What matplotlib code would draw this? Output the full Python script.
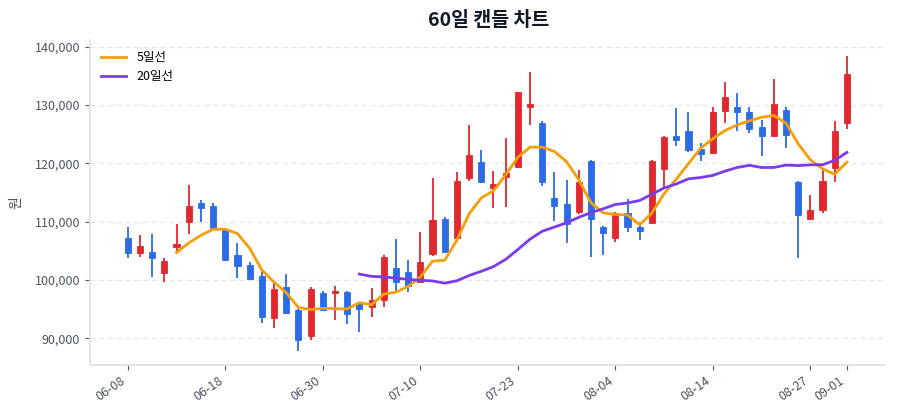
import matplotlib
matplotlib.use('Agg')
import matplotlib.pyplot as plt
import numpy as np
import pandas as pd

plt.rcParams['font.family'] = ['Noto Sans CJK KR', 'DejaVu Sans']

# candle data (60 trading days)
opens = [107100, 104600, 104700, 101100, 105700, 109900, 113200, 112700, 108700, 104200,
         102600, 100700, 93500, 98700, 94800, 90400, 97800, 97800, 98000, 96000,
         95400, 96600, 102000, 101400, 99700, 104400, 110400, 107100, 117400, 120200,
         115800, 117700, 119400, 129600, 126900, 114000, 113000, 111600, 120400, 109100,
         107200, 111400, 109100, 109700, 119000, 124700, 125500, 122500, 121800, 128900,
         129700, 128800, 126200, 124700, 129100, 116700, 110500, 112000, 119200, 126900]
highs = [109000, 107650, 107800, 103700, 109600, 116200, 113650, 113150, 108900, 106300,
         103100, 101600, 99500, 101000, 95000, 98850, 98100, 99000, 98100, 96100,
         98600, 104300, 107000, 103400, 108200, 117400, 110850, 118550, 126600, 122300,
         118700, 124300, 132300, 135700, 127250, 118550, 117150, 118850, 120500, 109200,
         111600, 113850, 110000, 120500, 124700, 129450, 128700, 123550, 129600, 133850,
         132000, 129700, 127450, 134400, 129700, 116900, 114550, 119150, 127300, 138400]
lows = [103800, 104000, 100550, 99600, 104850, 107850, 110000, 108700, 103200, 100300,
        100000, 92550, 91700, 94200, 87850, 89600, 94650, 93150, 92400, 91100,
        93700, 95300, 98000, 98000, 99600, 104100, 104700, 106450, 116950, 116600,
        112400, 112550, 119300, 126550, 116100, 110150, 106300, 111300, 104000, 104300,
        106550, 108150, 106850, 109600, 115800, 122950, 121900, 120450, 121600, 126950,
        125600, 125250, 121250, 124500, 122600, 103700, 110400, 111450, 116750, 125850]
closes = [104600, 105800, 103700, 103300, 106100, 112700, 112400, 108850, 103400, 102300,
          100200, 93700, 98400, 94400, 89600, 98400, 94800, 98100, 94100, 95000,
          96600, 104000, 99700, 99000, 103000, 110300, 104800, 117000, 121400, 116700,
          116400, 118400, 132200, 130100, 116700, 112700, 109600, 116700, 110400, 108000,
          111400, 109100, 108400, 120400, 124500, 124000, 122300, 121600, 128700, 131400,
          128800, 125800, 124700, 130200, 124900, 111100, 112000, 117000, 125500, 135300]

tick_idx = [0, 8, 16, 24, 32, 40, 48, 56, 59]
tick_labels = ['06-08', '06-18', '06-30', '07-10', '07-23', '08-04', '08-14', '08-27', '09-01']

UP = '#e0282e'
DOWN = '#2b6be6'

df = pd.DataFrame({'open': opens, 'high': highs, 'low': lows, 'close': closes})
ma5 = df['close'].rolling(5).mean()
ma20 = df['close'].rolling(20).mean()
x = np.arange(len(df))

fig = plt.figure(figsize=(9, 4.2), dpi=100)
ax = fig.add_axes([0.1, 0.131, 0.883, 0.774])

for i, row in df.iterrows():
    col = UP if row['close'] >= row['open'] else DOWN
    ax.vlines(i, row['low'], row['high'], color=col, lw=1.3, zorder=2)
    lo = min(row['open'], row['close'])
    h = abs(row['close'] - row['open'])
    ax.bar(i, max(h, 250), bottom=lo, width=0.5, color=col, edgecolor=col,
           lw=0.6, zorder=3)

ax.plot(x, ma5, color='#f59e0b', lw=2, label='5일선', zorder=4)
ax.plot(x, ma20, color='#7c3aed', lw=2, label='20일선', zorder=4)

ax.set_xlim(-3.1, 62.1)
ax.set_ylim(85400, 141150)
ax.set_xticks(tick_idx)
ax.set_xticklabels(tick_labels, rotation=35, ha='right')
ax.yaxis.set_major_formatter(matplotlib.ticker.FuncFormatter(lambda v, p: f'{v:,.0f}'))
ax.set_yticks([90000, 100000, 110000, 120000, 130000, 140000])

ax.grid(axis='y', color='#e5e7eb', ls=(0, (4, 3)), lw=0.9)
ax.set_axisbelow(True)
for s in ['top', 'right']:
    ax.spines[s].set_visible(False)
for s in ['left', 'bottom']:
    ax.spines[s].set_color('#dde1e7')
    ax.spines[s].set_linewidth(1.2)
ax.tick_params(colors='#4b5563', labelsize=9, length=3.5)

ax.set_ylabel('원', color='#4b5563', fontsize=10, labelpad=8)
fig.suptitle('60일 캔들 차트', fontsize=14, fontweight='bold', color='#111827',
             x=0.543, y=0.975)

ax.legend(loc='upper left', frameon=False, fontsize=9, handlelength=2.0,
          bbox_to_anchor=(0.0, 1.0))

fig.savefig('out.png', dpi=100)
